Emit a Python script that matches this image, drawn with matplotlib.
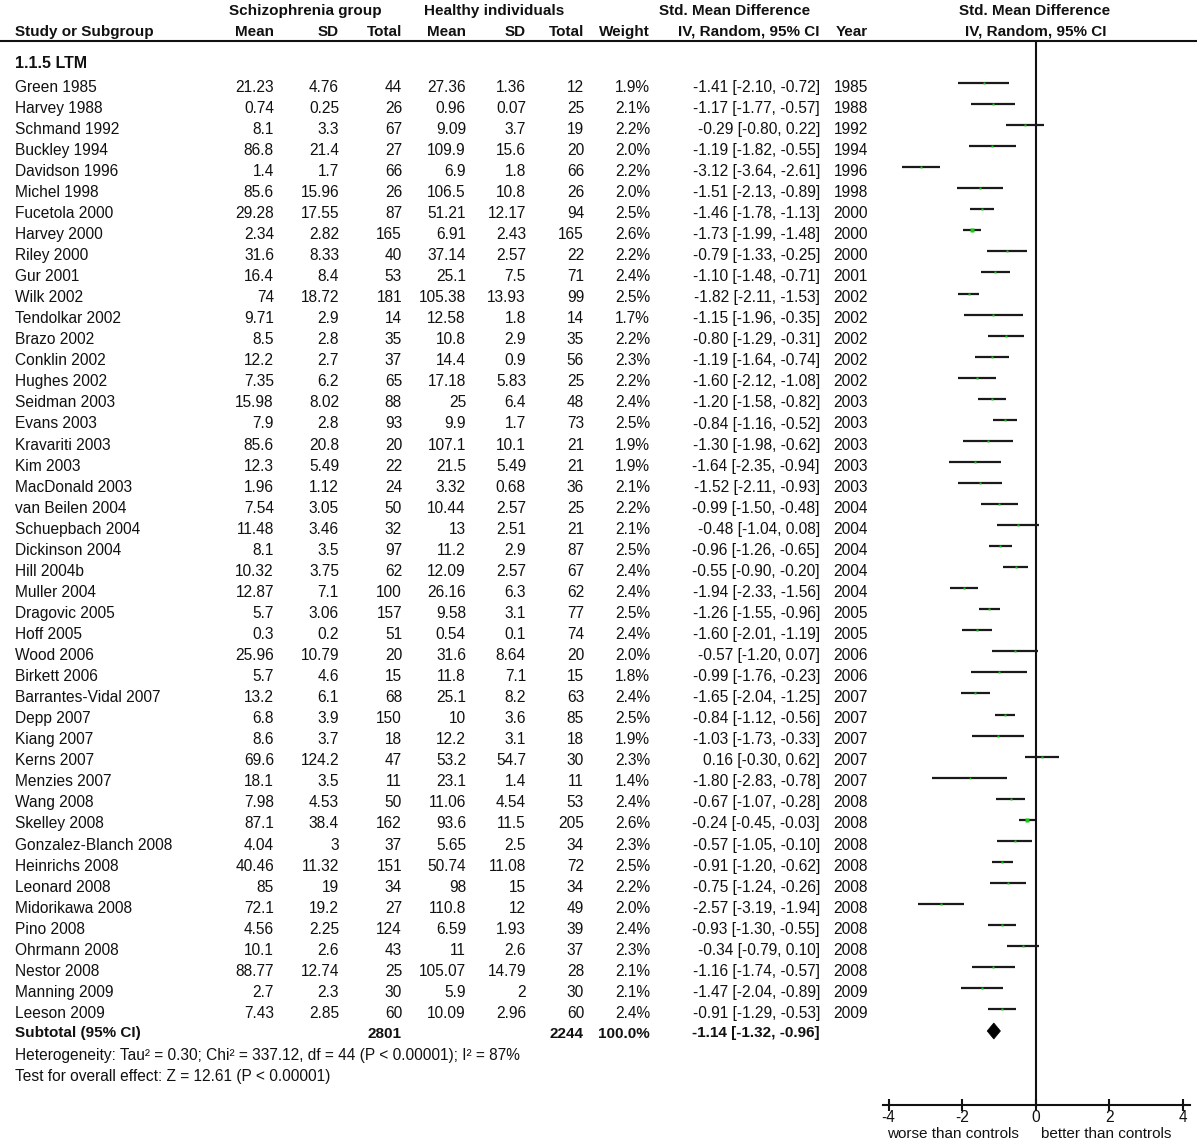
import matplotlib
matplotlib.use("Agg")
import matplotlib.pyplot as plt
from matplotlib.patches import Polygon

plt.rcParams['font.family'] = ['Liberation Sans', 'DejaVu Sans']
plt.rcParams['axes.unicode_minus'] = False

# ---------------- data ----------------
studies = ["Green 1985", "Harvey 1988", "Schmand 1992", "Buckley 1994", "Davidson 1996",
           "Michel 1998", "Fucetola 2000", "Harvey 2000", "Riley 2000", "Gur 2001",
           "Wilk 2002", "Tendolkar 2002", "Brazo 2002", "Conklin 2002", "Hughes 2002",
           "Seidman 2003", "Evans 2003", "Kravariti 2003", "Kim 2003", "MacDonald 2003",
           "van Beilen 2004", "Schuepbach 2004", "Dickinson 2004", "Hill 2004b", "Muller 2004",
           "Dragovic 2005", "Hoff 2005", "Wood 2006", "Birkett 2006", "Barrantes-Vidal 2007",
           "Depp 2007", "Kiang 2007", "Kerns 2007", "Menzies 2007", "Wang 2008",
           "Skelley 2008", "Gonzalez-Blanch 2008", "Heinrichs 2008", "Leonard 2008", "Midorikawa 2008",
           "Pino 2008", "Ohrmann 2008", "Nestor 2008", "Manning 2009", "Leeson 2009"]
sz_mean = [21.23, 0.74, 8.1, 86.8, 1.4, 85.6, 29.28, 2.34, 31.6, 16.4,
           74, 9.71, 8.5, 12.2, 7.35, 15.98, 7.9, 85.6, 12.3, 1.96,
           7.54, 11.48, 8.1, 10.32, 12.87, 5.7, 0.3, 25.96, 5.7, 13.2,
           6.8, 8.6, 69.6, 18.1, 7.98, 87.1, 4.04, 40.46, 85, 72.1,
           4.56, 10.1, 88.77, 2.7, 7.43]
sz_sd = [4.76, 0.25, 3.3, 21.4, 1.7, 15.96, 17.55, 2.82, 8.33, 8.4,
         18.72, 2.9, 2.8, 2.7, 6.2, 8.02, 2.8, 20.8, 5.49, 1.12,
         3.05, 3.46, 3.5, 3.75, 7.1, 3.06, 0.2, 10.79, 4.6, 6.1,
         3.9, 3.7, 124.2, 3.5, 4.53, 38.4, 3, 11.32, 19, 19.2,
         2.25, 2.6, 12.74, 2.3, 2.85]
sz_n = [44, 26, 67, 27, 66, 26, 87, 165, 40, 53,
        181, 14, 35, 37, 65, 88, 93, 20, 22, 24,
        50, 32, 97, 62, 100, 157, 51, 20, 15, 68,
        150, 18, 47, 11, 50, 162, 37, 151, 34, 27,
        124, 43, 25, 30, 60]
hc_mean = [27.36, 0.96, 9.09, 109.9, 6.9, 106.5, 51.21, 6.91, 37.14, 25.1,
           105.38, 12.58, 10.8, 14.4, 17.18, 25, 9.9, 107.1, 21.5, 3.32,
           10.44, 13, 11.2, 12.09, 26.16, 9.58, 0.54, 31.6, 11.8, 25.1,
           10, 12.2, 53.2, 23.1, 11.06, 93.6, 5.65, 50.74, 98, 110.8,
           6.59, 11, 105.07, 5.9, 10.09]
hc_sd = [1.36, 0.07, 3.7, 15.6, 1.8, 10.8, 12.17, 2.43, 2.57, 7.5,
         13.93, 1.8, 2.9, 0.9, 5.83, 6.4, 1.7, 10.1, 5.49, 0.68,
         2.57, 2.51, 2.9, 2.57, 6.3, 3.1, 0.1, 8.64, 7.1, 8.2,
         3.6, 3.1, 54.7, 1.4, 4.54, 11.5, 2.5, 11.08, 15, 12,
         1.93, 2.6, 14.79, 2, 2.96]
hc_n = [12, 25, 19, 20, 66, 26, 94, 165, 22, 71,
        99, 14, 35, 56, 25, 48, 73, 21, 21, 36,
        25, 21, 87, 67, 62, 77, 74, 20, 15, 63,
        85, 18, 30, 11, 53, 205, 34, 72, 34, 49,
        39, 37, 28, 30, 60]
weight = [1.9, 2.1, 2.2, 2.0, 2.2, 2.0, 2.5, 2.6, 2.2, 2.4,
          2.5, 1.7, 2.2, 2.3, 2.2, 2.4, 2.5, 1.9, 1.9, 2.1,
          2.2, 2.1, 2.5, 2.4, 2.4, 2.5, 2.4, 2.0, 1.8, 2.4,
          2.5, 1.9, 2.3, 1.4, 2.4, 2.6, 2.3, 2.5, 2.2, 2.0,
          2.4, 2.3, 2.1, 2.1, 2.4]
smd = [-1.41, -1.17, -0.29, -1.19, -3.12, -1.51, -1.46, -1.73, -0.79, -1.10,
       -1.82, -1.15, -0.80, -1.19, -1.60, -1.20, -0.84, -1.30, -1.64, -1.52,
       -0.99, -0.48, -0.96, -0.55, -1.94, -1.26, -1.60, -0.57, -0.99, -1.65,
       -0.84, -1.03, 0.16, -1.80, -0.67, -0.24, -0.57, -0.91, -0.75, -2.57,
       -0.93, -0.34, -1.16, -1.47, -0.91]
ci_lo = [-2.10, -1.77, -0.80, -1.82, -3.64, -2.13, -1.78, -1.99, -1.33, -1.48,
         -2.11, -1.96, -1.29, -1.64, -2.12, -1.58, -1.16, -1.98, -2.35, -2.11,
         -1.50, -1.04, -1.26, -0.90, -2.33, -1.55, -2.01, -1.20, -1.76, -2.04,
         -1.12, -1.73, -0.30, -2.83, -1.07, -0.45, -1.05, -1.20, -1.24, -3.19,
         -1.30, -0.79, -1.74, -2.04, -1.29]
ci_hi = [-0.72, -0.57, 0.22, -0.55, -2.61, -0.89, -1.13, -1.48, -0.25, -0.71,
         -1.53, -0.35, -0.31, -0.74, -1.08, -0.82, -0.52, -0.62, -0.94, -0.93,
         -0.48, 0.08, -0.65, -0.20, -1.56, -0.96, -1.19, 0.07, -0.23, -1.25,
         -0.56, -0.33, 0.62, -0.78, -0.28, -0.03, -0.10, -0.62, -0.26, -1.94,
         -0.55, 0.10, -0.57, -0.89, -0.53]
years = [1985, 1988, 1992, 1994, 1996, 1998, 2000, 2000, 2000, 2001,
         2002, 2002, 2002, 2002, 2002, 2003, 2003, 2003, 2003, 2003,
         2004, 2004, 2004, 2004, 2004, 2005, 2005, 2006, 2006, 2007,
         2007, 2007, 2007, 2007, 2008, 2008, 2008, 2008, 2008, 2008,
         2008, 2008, 2008, 2009, 2009]
total_sz, total_hc = 2801, 2244
total_weight = 100.0
pooled = (-1.14, -1.32, -0.96)
het_text = "Heterogeneity: Tau\u00b2 = 0.30; Chi\u00b2 = 337.12, df = 44 (P < 0.00001); I\u00b2 = 87%"
test_text = "Test for overall effect: Z = 12.61 (P < 0.00001)"
xticks = [-4, -2, 0, 2, 4]

# ---------------- layout ----------------
W, H = 1200, 1145
fig = plt.figure(figsize=(W / 100, H / 100), dpi=100)
fig.patch.set_facecolor('white')
ax = fig.add_axes([0, 0, 1, 1])
ax.set_xlim(0, W)
ax.set_ylim(H, 0)
ax.axis('off')

FS = 11.2
FSB = 11
TC = '#111111'
col_right = {'m1': 274, 's1': 339, 'n1': 402, 'm2': 466, 's2': 526, 'n2': 584,
             'w': 650, 'ci': 820, 'yr': 868}
X0 = 15
step = 21.05
base0 = 91.7


def t(x, y, s, ha='left', bold=False, size=None):
    if size is None:
        size = FSB if bold else FS
    ax.text(x, y, s, ha=ha, va='baseline', fontsize=size, color=TC,
            fontweight='bold' if bold else 'normal')


# headers
t(305.5, 15, "Schizophrenia group", ha='center', bold=True)
t(494.5, 15, "Healthy individuals", ha='center', bold=True)
t(735, 15, "Std. Mean Difference", ha='center', bold=True)
t(1035, 15, "Std. Mean Difference", ha='center', bold=True)
t(X0, 36, "Study or Subgroup", bold=True)
for key, lab in [('m1', 'Mean'), ('s1', 'SD'), ('n1', 'Total'), ('m2', 'Mean'),
                 ('s2', 'SD'), ('n2', 'Total'), ('w', 'Weight'), ('ci', 'IV, Random, 95% CI'),
                 ('yr', 'Year')]:
    t(col_right[key], 36, lab, ha='right', bold=True)
t(1036, 36, "IV, Random, 95% CI", ha='center', bold=True)
ax.plot([0, 1197], [41, 41], color='#111111', lw=1.5, solid_capstyle='butt')
t(X0, 68, "1.1.5 LTM", bold=True, size=11.5)

for i, name in enumerate(studies):
    yb = base0 + i * step
    t(X0, yb, name)
    t(col_right['m1'], yb, f"{sz_mean[i]:g}", ha='right')
    t(col_right['s1'], yb, f"{sz_sd[i]:g}", ha='right')
    t(col_right['n1'], yb, f"{sz_n[i]}", ha='right')
    t(col_right['m2'], yb, f"{hc_mean[i]:g}", ha='right')
    t(col_right['s2'], yb, f"{hc_sd[i]:g}", ha='right')
    t(col_right['n2'], yb, f"{hc_n[i]}", ha='right')
    t(col_right['w'], yb, f"{weight[i]:.1f}%", ha='right')
    t(col_right['ci'], yb, f"{smd[i]:.2f} [{ci_lo[i]:.2f}, {ci_hi[i]:.2f}]", ha='right')
    t(col_right['yr'], yb, f"{years[i]}", ha='right')

ysub = 1037.5
t(X0, ysub, "Subtotal (95% CI)", bold=True)
t(col_right['n1'], ysub, f"{total_sz}", ha='right', bold=True)
t(col_right['n2'], ysub, f"{total_hc}", ha='right', bold=True)
t(col_right['w'], ysub, f"{total_weight:.1f}%", ha='right', bold=True)
t(col_right['ci'], ysub, f"{pooled[0]:.2f} [{pooled[1]:.2f}, {pooled[2]:.2f}]", ha='right', bold=True)
t(X0, 1060, het_text)
t(X0, 1081, test_text)

# ---------------- forest plot ----------------
AX_L, AX_R, AX_T, AX_B = 883, 1190, 41, 1105
fa = fig.add_axes([AX_L / W, 1 - AX_B / H, (AX_R - AX_L) / W, (AX_B - AX_T) / H])
fa.set_xlim(-4.15, 4.19)
fa.set_ylim(AX_B, AX_T)
fa.patch.set_alpha(0)
for s in ['top', 'left', 'right']:
    fa.spines[s].set_visible(False)
fa.spines['bottom'].set_linewidth(1.5)
fa.spines['bottom'].set_color('#111111')
fa.set_yticks([])
fa.set_xticks(xticks)
fa.set_xticklabels([str(v) for v in xticks])
fa.tick_params(axis='x', direction='inout', length=9, width=1.5, color='#111111',
               labelsize=FS, labelcolor=TC, pad=-1)
fa.axvline(0, color='#111111', lw=1.5)

line_y0 = 83
for i in range(len(studies)):
    y = line_y0 + i * step
    fa.plot([ci_lo[i], ci_hi[i]], [y, y], color='#1a1a1a', lw=1.6, solid_capstyle='butt')
    fa.plot([smd[i]], [y], marker='s', ms=weight[i] * 0.85, color='#11cc11', mec='none')

yd = 1031
fa.add_patch(Polygon([[pooled[1], yd], [pooled[0], yd - 8], [pooled[2], yd], [pooled[0], yd + 8]],
                     closed=True, facecolor='black', edgecolor='black', lw=0.5))

t(953, 1138, "worse than controls", ha='center', size=11)
t(1106.5, 1138, "better than controls", ha='center', size=11)

fig.savefig("out.png", dpi=100, facecolor='white')
